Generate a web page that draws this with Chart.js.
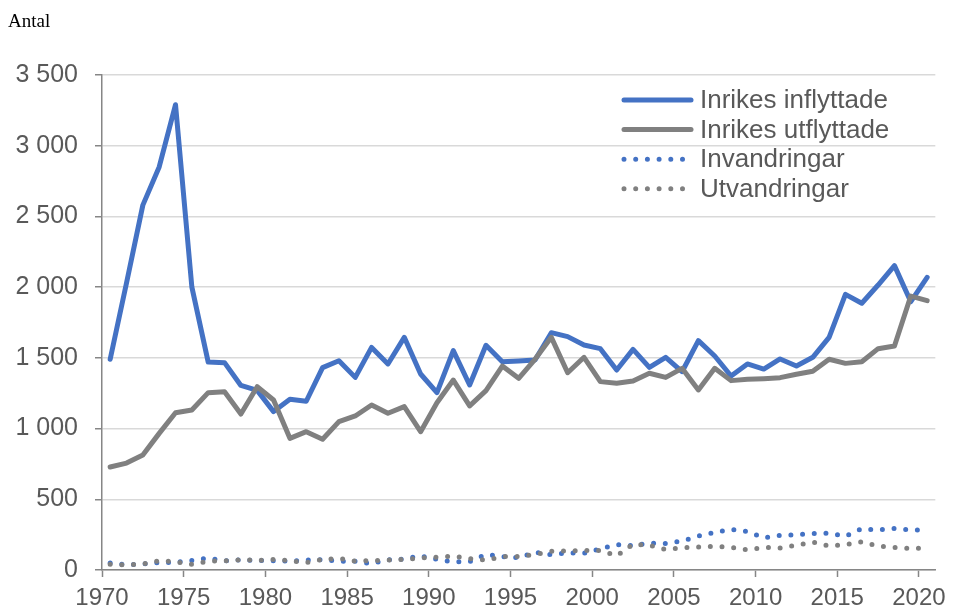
<!DOCTYPE html>
<html><head><meta charset="utf-8">
<script src="https://cdn.jsdelivr.net/npm/chart.js@4.4.0/dist/chart.umd.min.js"></script>
<style>
html,body{margin:0;padding:0;background:#fff;}
#wrap{position:relative;width:953px;height:610px;}
#antal{position:absolute;left:8px;top:11px;font-family:"Liberation Serif","Times New Roman",serif;font-size:19px;color:#000;line-height:1;}
canvas{position:absolute;left:0;top:0;}
</style></head><body>
<div id="wrap"><canvas id="c" width="953" height="610"></canvas><div id="antal">Antal</div></div>
<script>
const years = [1970,1971,1972,1973,1974,1975,1976,1977,1978,1979,1980,1981,1982,1983,1984,1985,1986,1987,1988,1989,1990,1991,1992,1993,1994,1995,1996,1997,1998,1999,2000,2001,2002,2003,2004,2005,2006,2007,2008,2009,2010,2011,2012,2013,2014,2015,2016,2017,2018,2019,2020];
const inflyttade = [1490,2030,2580,2850,3290,2000,1470,1466,1305,1270,1120,1207,1193,1431,1480,1362,1574,1457,1645,1386,1254,1551,1308,1589,1473,1478,1485,1678,1650,1591,1565,1414,1560,1433,1504,1402,1622,1513,1372,1457,1421,1492,1442,1504,1645,1949,1886,2015,2152,1897,2069];
const utflyttade = [728,756,813,966,1112,1131,1254,1261,1103,1296,1202,931,978,924,1049,1089,1167,1108,1155,978,1183,1343,1160,1268,1442,1355,1490,1645,1395,1504,1332,1320,1336,1391,1362,1426,1273,1426,1339,1348,1353,1360,1384,1405,1490,1461,1473,1565,1584,1937,1904];
const invandringar = [50,38,42,52,55,68,85,65,72,68,65,62,70,72,62,62,45,72,78,100,75,58,60,110,95,88,125,108,122,118,150,180,172,190,188,205,240,265,288,272,228,245,250,258,260,238,292,283,294,283,283];
const utvandringar = [40,35,42,65,58,40,62,65,72,68,75,65,52,75,82,62,66,70,75,85,90,99,80,70,95,96,110,133,135,137,138,100,182,175,145,157,162,168,160,143,160,155,175,198,170,178,200,168,160,152,155];
const yTickValues = [0,500,1000,1500,2000,2500,3000,3500];
const xTickYears = [1970,1975,1980,1985,1990,1995,2000,2005,2010,2015,2020];
const seriesNames = ['Inrikes inflyttade','Inrikes utflyttade','Invandringar','Utvandringar'];

const BLUE = '#4472C4', GREY = '#808080', TXT = '#595959', AX = '#868686';
// each year's value sits at the centre of its year slot
const pts = arr => arr.map((v,i)=>({x: years[i] + 0.5, y: v}));

const legendPlugin = {
  id:'customLegend',
  afterDatasetsDraw(chart){
    const ctx = chart.ctx;
    chart.data.datasets.forEach((ds,i)=>{
      const y = 100 + i*29.6;
      ctx.save();
      ctx.strokeStyle = ds.borderColor;
      ctx.lineWidth = ds.borderWidth;
      ctx.lineCap = 'round';
      ctx.setLineDash(ds.borderDash || []);
      ctx.beginPath();
      ctx.moveTo(624, y);
      ctx.lineTo(ds.borderDash ? 686 : 691, y);
      ctx.stroke();
      ctx.setLineDash([]);
      ctx.fillStyle = TXT;
      ctx.font = '26px "Liberation Sans", Arial, sans-serif';
      ctx.textBaseline = 'middle';
      ctx.fillText(ds.label, 700, y + 1);
      ctx.restore();
    });
  }
};

const fmt = v => v >= 1000 ? Math.floor(v/1000) + ' ' + String(v % 1000).padStart(3,'0') : String(v);

new Chart(document.getElementById('c'), {
  type: 'line',
  data: {
    datasets: [
      {label: seriesNames[0], data: pts(inflyttade), borderColor: BLUE, borderWidth: 5, order: 3},
      {label: seriesNames[1], data: pts(utflyttade), borderColor: GREY, borderWidth: 5, order: 2},
      {label: seriesNames[2], data: pts(invandringar), borderColor: BLUE, borderWidth: 5, borderDash: [0, 11.7], order: 1},
      {label: seriesNames[3], data: pts(utvandringar), borderColor: GREY, borderWidth: 5, borderDash: [0, 11.7], order: 0}
    ]
  },
  options: {
    responsive: false,
    animation: false,
    devicePixelRatio: 1,
    layout: {padding: {top: 75, right: 17, left: 0, bottom: 0}},
    elements: {
      point: {radius: 0, hoverRadius: 0},
      line: {tension: 0, borderCapStyle: 'round', borderJoinStyle: 'round', fill: false}
    },
    plugins: {legend: {display: false}, tooltip: {enabled: false}, title: {display: false}},
    scales: {
      x: {
        type: 'linear', min: 1970, max: 2021,
        afterBuildTicks: s => { s.ticks = xTickYears.map(v => ({value: v})); },
        afterFit: s => { s.height = 40; },
        ticks: {callback: v => String(v), autoSkip: false, maxRotation: 0, color: TXT, padding: 7,
                font: {family: '"Liberation Sans", Arial, sans-serif', size: 24}},
        grid: {drawOnChartArea: false, drawTicks: true, tickLength: 7, tickColor: AX, tickWidth: 1.5},
        border: {color: AX, width: 1.5}
      },
      y: {
        min: 0, max: 3500,
        afterBuildTicks: s => { s.ticks = yTickValues.map(v => ({value: v})); },
        afterFit: s => { s.width = 102; },
        ticks: {callback: v => fmt(v), color: TXT, padding: 17,
                font: {family: '"Liberation Sans", Arial, sans-serif', size: 25}},
        grid: {color: '#d9d9d9', lineWidth: 1.5, drawTicks: true, tickLength: 7, tickColor: AX, tickWidth: 1.5},
        border: {color: AX, width: 1.5}
      }
    }
  },
  plugins: [legendPlugin]
});
</script>
</body></html>
